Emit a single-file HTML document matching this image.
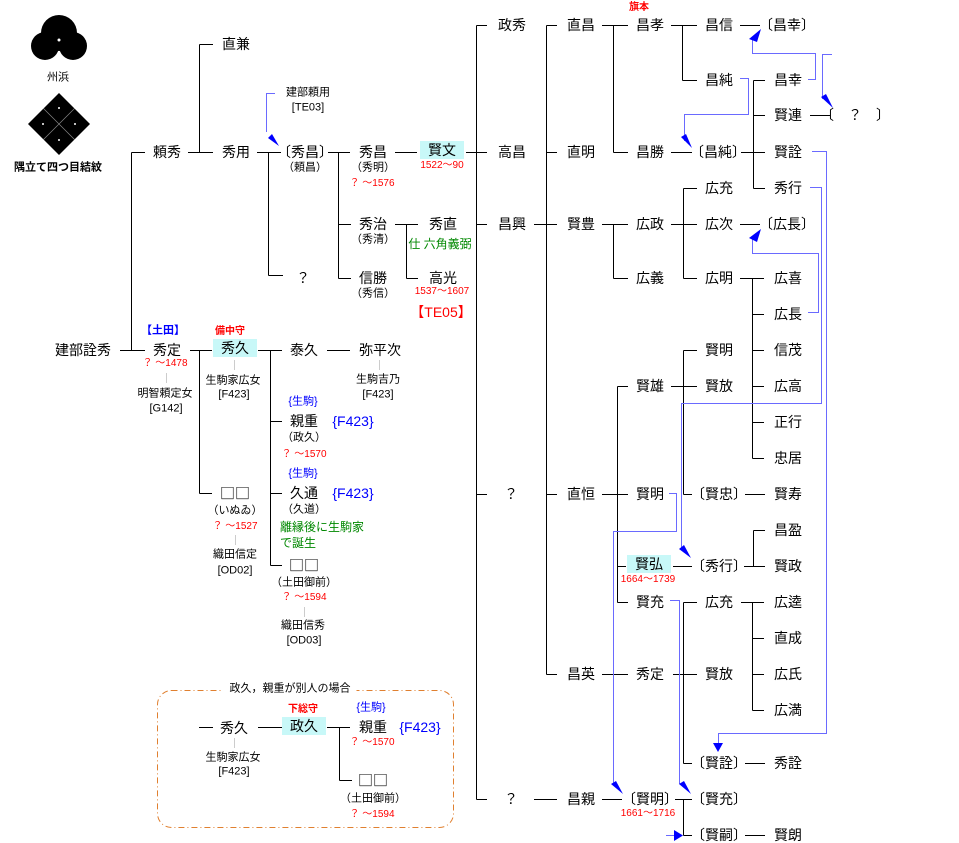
<!DOCTYPE html>
<html><head><meta charset="utf-8"><style>
html,body{margin:0;padding:0;background:#fff}
#c{position:relative;width:959px;height:843px;overflow:hidden;font-family:"Liberation Sans","Noto Sans CJK JP",sans-serif;color:#000}
#c div{position:absolute;transform:translate(-50%,-50%);white-space:nowrap;line-height:1}
.n{font-size:14px}
.s{font-size:11px}
.r{font-size:10px;color:#f00}
.b{color:#00f}
.g{color:#080;font-size:12px}
.h{background:#c8f8f8;padding:2px 8px}
.q{font-family:"Noto Sans CJK JP",sans-serif !important;font-size:15px}
svg{position:absolute;left:0;top:0}
</style></head><body><div id="c">
<svg width="959" height="843" shape-rendering="crispEdges">
<g stroke="#000" stroke-width="1" fill="none">
<path d="M131.5 152.5V350.5M131.5 152.5H145M120 350.5H145"/>
<path d="M188 152.5H213M199.5 44.5V152.5M199.5 44.5H213"/>
<path d="M257 152.5H281M268.5 152.5V275.5M268.5 275.5H283"/>
<path d="M328 152.5H350M338.5 152.5V278.5M338.5 224.5H351M338.5 278.5H351"/>
<path d="M395 152.5H417"/>
<path d="M466 152.5H477M476.5 25.5V799.5M476.5 25.5H487M476.5 152.5H487M476.5 224.5H487M476.5 494.5H487M476.5 799.5H487"/>
<path d="M395 224.5H418M406.5 224.5V278.5M406.5 278.5H418"/>
<path d="M190 350.5H212M199.5 350.5V493.5M199.5 493.5H212"/>
<path d="M258 350.5H282M270.5 350.5V565.5M270.5 421.5H282M270.5 493.5H282M270.5 565.5H282"/>
<path d="M327 350.5H350"/>
<path d="M546.5 25.5V674.5M546.5 25.5H557M546.5 152.5H557M546.5 494.5H557M546.5 674.5H557M534 224.5H557"/>
<path d="M534 799.5H557M602 799.5H622"/>
<path d="M602 25.5H628M613.5 25.5V152.5M613.5 152.5H628"/>
<path d="M671 25.5H697M682.5 25.5V80.5M682.5 80.5H697"/>
<path d="M740 25.5H760M671 152.5H692"/>
<path d="M741 152.5H753M753.5 80.5V188.5M753.5 80.5H765M753.5 115.5H765M753.5 152.5H765M753.5 188.5H765"/>
<path d="M810 115.5H830"/>
<path d="M602 224.5H628M613.5 224.5V278.5M613.5 278.5H628"/>
<path d="M671 224.5H697M683.5 188.5V278.5M683.5 188.5H697M683.5 278.5H697"/>
<path d="M740 224.5H760"/>
<path d="M740 278.5H764M752.5 278.5V458.5M752.5 314.5H764M752.5 350.5H764M752.5 386.5H764M752.5 422.5H764M752.5 458.5H764"/>
<path d="M602 494.5H628M617.5 386.5V602.5M617.5 386.5H628M617.5 566.5H626M617.5 602.5H628"/>
<path d="M671 386.5H697M683.5 350.5V494.5M683.5 350.5H697M683.5 494.5H692"/>
<path d="M745 494.5H765"/>
<path d="M673 566.5H692M744 566.5H765M753.5 530.5V566.5M753.5 530.5H765"/>
<path d="M683.5 602.5V763.5M683.5 602.5H697M683.5 763.5H692M673 674.5H697"/>
<path d="M741 602.5H764M752.5 602.5V710.5M752.5 638.5H764M752.5 674.5H764M752.5 710.5H764"/>
<path d="M745 763.5H765M602 674.5H628"/>
<path d="M675 799.5H692M683.5 799.5V835.5M683.5 835.5H692M745 835.5H765"/>
<path d="M199 727.5H213M258 727.5H282M327 727.5H350M339.5 727.5V780.5M339.5 780.5H352"/>
</g>
<g stroke="#ccc"><path d="M166.5 373V383M234.5 360V370M379.5 360V370M235.5 535V545M304.5 607V617M234.5 738V748"/></g>
<g stroke="#6a6aff" stroke-width="1" fill="none">
<path d="M275 93.5H266.5V132"/>
<path d="M808 79.5H815.5V53.5H752.5V40"/>
<path d="M832 54.5H822.5V99"/>
<path d="M740 78.5H748.5V114.5H684.5V141"/>
<path d="M812 151.5H826.5V733.5H718.5V745"/>
<path d="M810 187.5H821.5V403.5H681.5V549"/>
<path d="M808 312.5H818.5V253.5H752.5V238"/>
<path d="M669 493.5H676.5V531.5H613.5V785"/>
<path d="M670 600.5H679.5V784"/>
<path d="M666 835.5H676"/>
</g>
<g fill="#00f" shape-rendering="auto">
<polygon points="279,146 268,138 272,134"/>
<polygon points="761,29 749,39 757,42"/>
<polygon points="833,108 821,97 826,94"/>
<polygon points="692,148 681,137 686,134"/>
<polygon points="718,752 713,743 723,743"/>
<polygon points="691,558 679,549 684,545"/>
<polygon points="761,229 749,238 757,242"/>
<polygon points="623,794 611,784 616,781"/>
<polygon points="691,794 679,784 684,781"/>
<polygon points="683,835.5 674,830 674,841"/>
</g>
<g fill="#000" shape-rendering="auto">
<circle cx="59" cy="33" r="18"/><circle cx="45" cy="46" r="14"/><circle cx="73" cy="46" r="14"/>
<polygon points="59,93 90,124 59,155 28,124"/>
</g>
<g stroke="#888" stroke-width="0.7" shape-rendering="auto"><path d="M43.5 108.5L74.5 139.5M74.5 108.5L43.5 139.5"/></g>
<g fill="#fff" shape-rendering="auto"><circle cx="59" cy="40" r="1.5"/><circle cx="59" cy="108" r="1"/><circle cx="43" cy="124" r="1"/><circle cx="75" cy="124" r="1"/><circle cx="59" cy="140" r="1"/></g>
<rect x="157.5" y="690.5" width="296" height="137" rx="14" fill="none" stroke="#e08030" stroke-dasharray="6,3,1,3" shape-rendering="auto"/>
</svg>
<div class="s" style="left:58px;top:78px">州浜</div>
<div class="s" style="left:58px;top:168px;font-weight:bold">隅立て四つ目結紋</div>

<div class="n" style="left:236px;top:44px">直兼</div>
<div class="n" style="left:167px;top:152px">頼秀</div>
<div class="n" style="left:236px;top:152px">秀用</div>
<div class="n" style="left:305px;top:152px">〔秀昌〕</div>
<div class="s" style="left:305px;top:168px">（頼昌）</div>
<div class="s" style="left:308px;top:93px">建部頼用</div>
<div class="s" style="left:308px;top:108px">[TE03]</div>
<div class="n" style="left:373px;top:152px">秀昌</div>
<div class="s" style="left:373px;top:168px">（秀明）</div>
<div class="r" style="left:372px;top:184px">？ ～1576</div>
<div class="n h" style="left:442px;top:150px">賢文</div>
<div class="r" style="left:442px;top:166px">1522～90</div>
<div class="n" style="left:373px;top:224px">秀治</div>
<div class="s" style="left:373px;top:240px">（秀清）</div>
<div class="n" style="left:443px;top:224px">秀直</div>
<div class="g" style="left:440px;top:244px">仕 六角義弼</div>
<div class="n" style="left:303px;top:278px">？</div>
<div class="n" style="left:373px;top:278px">信勝</div>
<div class="s" style="left:373px;top:294px">（秀信）</div>
<div class="n" style="left:443px;top:278px">高光</div>
<div class="r" style="left:442px;top:292px">1537～1607</div>
<div class="n" style="left:441px;top:312px;color:#f00">【TE05】</div>

<div class="n" style="left:83px;top:350px">建部詮秀</div>
<div class="s b" style="left:163px;top:331px;font-weight:bold">【土田】</div>
<div class="n" style="left:167px;top:350px">秀定</div>
<div class="r" style="left:165px;top:364px">？ ～1478</div>
<div class="s" style="left:165px;top:394px">明智頼定女</div>
<div class="s" style="left:166px;top:409px">[G142]</div>
<div class="r" style="left:230px;top:332px;font-weight:bold">備中守</div>
<div class="n h" style="left:235px;top:348px">秀久</div>
<div class="s" style="left:233px;top:381px">生駒家広女</div>
<div class="s" style="left:234px;top:395px">[F423]</div>
<div class="n" style="left:304px;top:350px">泰久</div>
<div class="n" style="left:380px;top:350px">弥平次</div>
<div class="s" style="left:378px;top:380px">生駒吉乃</div>
<div class="s" style="left:378px;top:395px">[F423]</div>
<div class="s b" style="left:303px;top:402px">{生駒}</div>
<div class="n" style="left:304px;top:421px">親重</div>
<div class="n b" style="left:353px;top:421px">{F423}</div>
<div class="s" style="left:304px;top:438px">（政久）</div>
<div class="r" style="left:304px;top:455px">？ ～1570</div>
<div class="s b" style="left:303px;top:474px">{生駒}</div>
<div class="n" style="left:304px;top:493px">久通</div>
<div class="n b" style="left:353px;top:493px">{F423}</div>
<div class="s" style="left:304px;top:510px">（久道）</div>
<div class="g" style="left:322px;top:527px">離縁後に生駒家</div>
<div class="g" style="left:298px;top:543px">で誕生</div>
<div class="n q" style="left:304px;top:565px">□□</div>
<div class="s" style="left:304px;top:583px">（土田御前）</div>
<div class="r" style="left:304px;top:598px">？ ～1594</div>
<div class="s" style="left:303px;top:626px">織田信秀</div>
<div class="s" style="left:304px;top:641px">[OD03]</div>
<div class="n q" style="left:235px;top:493px">□□</div>
<div class="s" style="left:235px;top:511px">（いぬゐ）</div>
<div class="r" style="left:235px;top:527px">？ ～1527</div>
<div class="s" style="left:235px;top:555px">織田信定</div>
<div class="s" style="left:235px;top:571px">[OD02]</div>

<div class="s" style="left:290px;top:689px;background:#fff;padding:0 6px">政久，親重が別人の場合</div>
<div class="n" style="left:234px;top:728px">秀久</div>
<div class="s" style="left:233px;top:758px">生駒家広女</div>
<div class="s" style="left:234px;top:772px">[F423]</div>
<div class="r" style="left:303px;top:710px;font-weight:bold">下総守</div>
<div class="n h" style="left:304px;top:726px">政久</div>
<div class="s b" style="left:371px;top:708px">{生駒}</div>
<div class="n" style="left:373px;top:727px">親重</div>
<div class="n b" style="left:420px;top:727px">{F423}</div>
<div class="r" style="left:372px;top:743px">？ ～1570</div>
<div class="n q" style="left:373px;top:780px">□□</div>
<div class="s" style="left:373px;top:799px">（土田御前）</div>
<div class="r" style="left:372px;top:815px">？ ～1594</div>

<div class="n" style="left:512px;top:25px">政秀</div>
<div class="n" style="left:512px;top:152px">高昌</div>
<div class="n" style="left:512px;top:224px">昌興</div>
<div class="n" style="left:511px;top:494px">？</div>
<div class="n" style="left:511px;top:799px">？</div>
<div class="n" style="left:581px;top:25px">直昌</div>
<div class="n" style="left:581px;top:152px">直明</div>
<div class="n" style="left:581px;top:224px">賢豊</div>
<div class="n" style="left:581px;top:494px">直恒</div>
<div class="n" style="left:581px;top:674px">昌英</div>
<div class="n" style="left:581px;top:799px">昌親</div>
<div class="r" style="left:639px;top:8px;font-weight:bold">旗本</div>
<div class="n" style="left:650px;top:25px">昌孝</div>
<div class="n" style="left:650px;top:152px">昌勝</div>
<div class="n" style="left:650px;top:224px">広政</div>
<div class="n" style="left:650px;top:278px">広義</div>
<div class="n" style="left:650px;top:386px">賢雄</div>
<div class="n" style="left:650px;top:494px">賢明</div>
<div class="n h" style="left:649px;top:564px">賢弘</div>
<div class="r" style="left:648px;top:580px">1664～1739</div>
<div class="n" style="left:650px;top:602px">賢充</div>
<div class="n" style="left:650px;top:674px">秀定</div>
<div class="n" style="left:650px;top:799px">〔賢明〕</div>
<div class="r" style="left:648px;top:814px">1661～1716</div>
<div class="n" style="left:719px;top:25px">昌信</div>
<div class="n" style="left:719px;top:80px">昌純</div>
<div class="n" style="left:718px;top:152px">〔昌純〕</div>
<div class="n" style="left:719px;top:188px">広充</div>
<div class="n" style="left:719px;top:224px">広次</div>
<div class="n" style="left:719px;top:278px">広明</div>
<div class="n" style="left:719px;top:350px">賢明</div>
<div class="n" style="left:719px;top:386px">賢放</div>
<div class="n" style="left:719px;top:494px">〔賢忠〕</div>
<div class="n" style="left:719px;top:566px">〔秀行〕</div>
<div class="n" style="left:719px;top:602px">広充</div>
<div class="n" style="left:719px;top:674px">賢放</div>
<div class="n" style="left:719px;top:763px">〔賢詮〕</div>
<div class="n" style="left:719px;top:799px">〔賢充〕</div>
<div class="n" style="left:719px;top:835px">〔賢嗣〕</div>
<div class="n" style="left:787px;top:25px">〔昌幸〕</div>
<div class="n" style="left:788px;top:80px">昌幸</div>
<div class="n" style="left:788px;top:115px">賢連</div>
<div class="n" style="left:788px;top:152px">賢詮</div>
<div class="n" style="left:788px;top:188px">秀行</div>
<div class="n" style="left:787px;top:224px">〔広長〕</div>
<div class="n" style="left:788px;top:278px">広喜</div>
<div class="n" style="left:788px;top:314px">広長</div>
<div class="n" style="left:788px;top:350px">信茂</div>
<div class="n" style="left:788px;top:386px">広高</div>
<div class="n" style="left:788px;top:422px">正行</div>
<div class="n" style="left:788px;top:458px">忠居</div>
<div class="n" style="left:788px;top:494px">賢寿</div>
<div class="n" style="left:788px;top:530px">昌盈</div>
<div class="n" style="left:788px;top:566px">賢政</div>
<div class="n" style="left:788px;top:602px">広逵</div>
<div class="n" style="left:788px;top:638px">直成</div>
<div class="n" style="left:788px;top:674px">広氏</div>
<div class="n" style="left:788px;top:710px">広満</div>
<div class="n" style="left:788px;top:763px">秀詮</div>
<div class="n" style="left:788px;top:835px">賢朗</div>
<div class="n" style="left:855px;top:115px">〔　？　〕</div>
</div></body></html>
